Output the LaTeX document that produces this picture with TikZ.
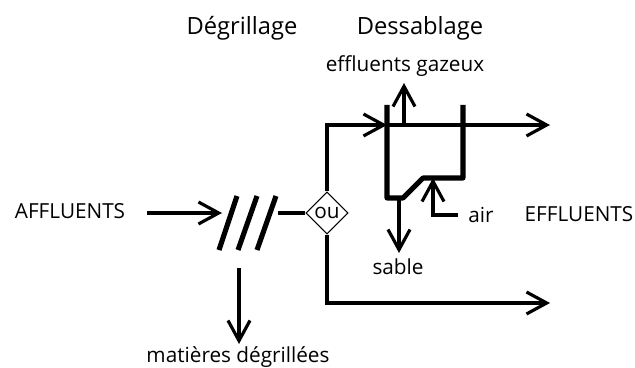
\documentclass[tikz,border=0pt]{standalone}
\usepackage{fontspec}
\setmainfont{Open Sans}
\usetikzlibrary{arrows.meta,shapes.geometric}
\begin{document}
\begin{tikzpicture}[x=.02cm,y=-.02cm,line width=1.8pt,
  >={Straight Barb[length=11.5pt,width=12.5pt,line width=1.8pt]},
  lab/.style={inner sep=0pt,font=\fontsize{11.8}{13}\selectfont},
  title/.style={inner sep=0pt,font=\fontsize{13.5}{15}\selectfont},
  flow/.style={draw,->},
  wall/.style={draw,line width=2.9pt,line join=round},
  bar/.style={draw,line width=2.9pt}]

\useasboundingbox (0,0) rectangle (635,368);

\def\flowy{125}
\def\gridy{213}

\node[title] (degr) at (242,28) {Dégrillage};
\node[title] (dess) at (420,28) {Dessablage};
\node[lab] (gaz) at (405,66) {effluents gazeux};
\node[lab] (affl) at (70,211) {AFFLUENTS};
\node[lab] (effl) at (579,214) {EFFLUENTS};
\node[lab] (air) at (481,215) {air};
\node[lab] (sable) at (398,267) {sable};
\node[lab] (mat) at (238,357) {matières dégrillées};

\node[diamond,draw,line width=.6pt,inner sep=0pt,minimum width=.84cm,minimum height=.84cm,font=\fontsize{11.8}{13}\selectfont] (ou) at (327,\gridy) {ou};

\coordinate (g1a) at (219,250);
\coordinate (g1b) at (237,196);
\coordinate (g2a) at (238,250);
\coordinate (g2b) at (257,196);
\coordinate (g3a) at (257,250);
\coordinate (g3b) at (276,196);

\coordinate (in) at (147,\gridy);
\coordinate (grid) at (222,\gridy);
\coordinate (gridout) at (278,\gridy);
\coordinate (bend) at (327,\flowy);
\coordinate (inlet) at (387,\flowy);
\coordinate (outlet) at (550,\flowy);
\coordinate (bend2) at (327,303);
\coordinate (bypass) at (550,303);
\coordinate (waste) at (239,268);
\coordinate (wasteend) at (239,344);

\coordinate (t1) at (387,105);
\coordinate (t2) at (387,198);
\coordinate (t3) at (403,198);
\coordinate (t4) at (423,178);
\coordinate (t5) at (463,178);
\coordinate (t6) at (463,105);

\coordinate (gas) at (404,\flowy);
\coordinate (gasend) at (404,83);
\coordinate (sand) at (399,198);
\coordinate (sandend) at (399,253);
\coordinate (airin) at (458,215);
\coordinate (aircorner) at (433,215);
\coordinate (airend) at (433,178);

% degrilleur
\draw[bar] (g1a) -- (g1b);
\draw[bar] (g2a) -- (g2b);
\draw[bar] (g3a) -- (g3b);

% canaux
\draw[flow] (in) -- (grid);
\draw (gridout) -- (ou);
\draw[flow] (ou) -- (bend) -- (inlet);
\draw[flow] (inlet) -- (outlet);
\draw[flow] (ou) -- (bend2) -- (bypass);
\draw[flow] (waste) -- (wasteend);

% dessableur
\draw[wall] (t1) -- (t2) -- (t3) -- (t4) -- (t5) -- (t6);
\draw[flow] (gas) -- (gasend);
\draw[flow] (sand) -- (sandend);
\draw[flow] (airin) -- (aircorner) -- (airend);
\end{tikzpicture}
\end{document}
